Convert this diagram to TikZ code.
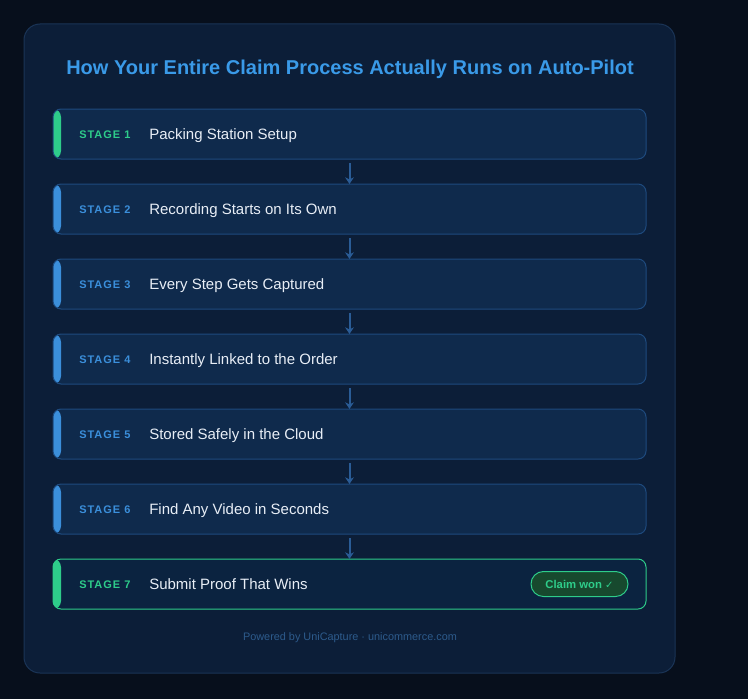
\documentclass[tikz,border=0pt]{standalone}
\usepackage{fontspec}
\setmainfont{Liberation Sans}
\newfontfamily\tagfont[LetterSpace=9]{Liberation Sans}
\newfontfamily\symfont{DejaVu Sans}
\usetikzlibrary{
		positioning,
		arrows.meta
	}
\definecolor{pagebg}{HTML}{070F1C}
\definecolor{cardfill}{HTML}{0C1E38}
\definecolor{cardline}{HTML}{1A3456}
\definecolor{boxfill}{HTML}{0F2A4C}
\definecolor{boxline}{HTML}{1E4A7E}
\definecolor{lastfill}{HTML}{0B2340}
\definecolor{okgreen}{HTML}{2ECC8A}
\definecolor{stageblue}{HTML}{3B8FDB}
\definecolor{titleblue}{HTML}{3A9AE8}
\definecolor{textwhite}{HTML}{E8EEF6}
\definecolor{badgefill}{HTML}{17492E}
\definecolor{footblue}{HTML}{2D5B8C}
\definecolor{flowline}{HTML}{2A5C96}
\tikzset{
		>=Stealth,
		stagebox/.style={draw=boxline, fill=boxfill, line width=0.75pt, rounded corners=6pt,
			minimum width=444.75pt, minimum height=37.5pt, inner sep=0pt, outer sep=0pt,
			path picture={\fill[#1] (path picture bounding box.north west) rectangle
				([xshift=6pt]path picture bounding box.south west);}},
		stagebox/.default=stageblue,
		stagetag/.style={inner sep=0pt, yshift=-0.75pt, font=\tagfont\bfseries\fontsize{8.25pt}{10pt}\selectfont},
		stagetext/.style={inner sep=0pt, yshift=-1.5pt, text height=8.2pt, text depth=2.4pt,
			text=textwhite, font=\fontsize{11.25pt}{13pt}\selectfont},
		flow/.style={flowline, line width=1.5pt, -{Stealth[length=5pt,width=6.5pt]}}
	}
\newcommand{\tagshift}{19.5pt}
\newcommand{\textshift}{72pt}

\begin{document}
\begin{tikzpicture}[x=0.75pt, y=-0.75pt]
		\fill[pagebg] (0,0) rectangle (748,699);
		\useasboundingbox (0,0) rectangle (748,699);
		\draw[cardline, fill=cardfill, line width=0.75pt, rounded corners=12pt] (24,24) rectangle (675,673);
		\node[text=titleblue, font=\bfseries\fontsize{15pt}{18pt}\selectfont] (title) at (350,69) {How Your Entire Claim Process Actually Runs on Auto-Pilot};

		\node[stagebox=okgreen] (s1) at (349.5,134) {};
		\node[stagebox, below=18.75pt of s1] (s2) {};
		\node[stagebox, below=18.75pt of s2] (s3) {};
		\node[stagebox, below=18.75pt of s3] (s4) {};
		\node[stagebox, below=18.75pt of s4] (s5) {};
		\node[stagebox, below=18.75pt of s5] (s6) {};
		\node[stagebox=okgreen, draw=okgreen, fill=lastfill, below=18.75pt of s6] (s7) {};

		\node[stagetag, text=okgreen, right=\tagshift of s1.west] (t1) {STAGE 1};
		\node[stagetag, text=stageblue, right=\tagshift of s2.west] (t2) {STAGE 2};
		\node[stagetag, text=stageblue, right=\tagshift of s3.west] (t3) {STAGE 3};
		\node[stagetag, text=stageblue, right=\tagshift of s4.west] (t4) {STAGE 4};
		\node[stagetag, text=stageblue, right=\tagshift of s5.west] (t5) {STAGE 5};
		\node[stagetag, text=stageblue, right=\tagshift of s6.west] (t6) {STAGE 6};
		\node[stagetag, text=okgreen, right=\tagshift of s7.west] (t7) {STAGE 7};

		\node[stagetext, right=\textshift of s1.west] (n1) {Packing Station Setup};
		\node[stagetext, right=\textshift of s2.west] (n2) {Recording Starts on Its Own};
		\node[stagetext, right=\textshift of s3.west] (n3) {Every Step Gets Captured};
		\node[stagetext, right=\textshift of s4.west] (n4) {Instantly Linked to the Order};
		\node[stagetext, right=\textshift of s5.west] (n5) {Stored Safely in the Cloud};
		\node[stagetext, right=\textshift of s6.west] (n6) {Find Any Video in Seconds};
		\node[stagetext, right=\textshift of s7.west] (n7) {Submit Proof That Wins};

		\node[draw=okgreen, fill=badgefill, text=okgreen, line width=0.75pt, rounded corners=9.3pt,
			minimum width=72.75pt, minimum height=18.75pt, inner sep=0pt, outer sep=0pt,
			font=\bfseries\fontsize{8.5pt}{10pt}\selectfont, left=13.5pt of s7.east] (won) {Claim won {\symfont\bfseries\fontsize{7.5pt}{9pt}\selectfont ✓}};

		\draw[flow] ([yshift=-3pt]s1.south) -- (s2.north);
		\draw[flow] ([yshift=-3pt]s2.south) -- (s3.north);
		\draw[flow] ([yshift=-3pt]s3.south) -- (s4.north);
		\draw[flow] ([yshift=-3pt]s4.south) -- (s5.north);
		\draw[flow] ([yshift=-3pt]s5.south) -- (s6.north);
		\draw[flow] ([yshift=-3pt]s6.south) -- (s7.north);

		\node[text=footblue, font=\fontsize{8.15pt}{10pt}\selectfont] (foot) at (350,638) {Powered by UniCapture · unicommerce.com};
	\end{tikzpicture}
\end{document}
